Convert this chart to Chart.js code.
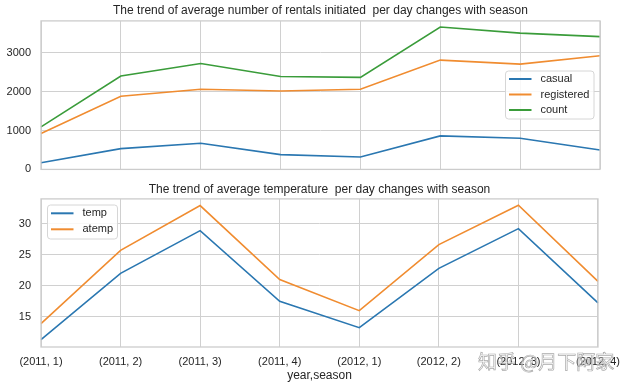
<!DOCTYPE html>
<html>
<head>
<meta charset="utf-8">
<script src="https://cdn.jsdelivr.net/npm/chart.js@4"></script>
<style>
  html, body { margin:0; padding:0; background:#fff; }
  #wrap { position:relative; width:628px; height:388px; overflow:hidden; }
  #top { position:absolute; left:0; top:0; }
  #bottom { position:absolute; left:0; top:180px; }
  #mark { position:absolute; left:478px; top:347px; font-family:"Noto Sans CJK SC"; font-size:19px;
          color:rgba(255,255,255,0.55); -webkit-text-stroke:0.7px rgba(140,140,140,0.75); white-space:nowrap; }
</style>
</head>
<body>
<div id="wrap">
  <canvas id="top" width="628" height="186"></canvas>
  <canvas id="bottom" width="628" height="208"></canvas>
  <div id="mark">知乎 @月下阿家</div>
</div>
<script>
// valeurs (moyennes par saison)
const categories = ['(2011, 1)','(2011, 2)','(2011, 3)','(2011, 4)','(2012, 1)','(2012, 2)','(2012, 3)','(2012, 4)'];
const casual     = [173, 536, 674, 381, 319, 863, 803, 500];
const registered = [925, 1883, 2065, 2021, 2065, 2816, 2712, 2927];
const count      = [1095, 2405, 2730, 2395, 2370, 3670, 3510, 3420];
const temp  = [11.34, 22.03, 28.92, 17.52, 13.27, 22.84, 29.24, 17.26];
const atemp = [13.92, 25.74, 32.95, 21.02, 16.02, 26.66, 33.0, 20.74];
const topTicks = [0, 1000, 2000, 3000];
const bottomTicks = [15, 20, 25, 30];

const BLUE = '#2a77b1', ORANGE = '#f08c30', GREEN = '#3a9c3a';
const GRID = '#d0d0d0', TXT = '#262626';
const FONT = 'Liberation Sans, Arial, sans-serif';

// cadre autour de la zone de tracé
const frame = {
  id:'frame',
  afterDraw(chart){
    const a = chart.chartArea, c = chart.ctx;
    c.save(); c.strokeStyle = '#cccccc'; c.lineWidth = 1.3;
    c.strokeRect(a.left, a.top, a.right - a.left, a.bottom - a.top);
    c.restore();
  }
};

// légende façon matplotlib
const boxLegend = {
  id:'boxLegend',
  afterDraw(chart, args, o){
    const c = chart.ctx;
    c.save();
    c.fillStyle = 'rgba(255,255,255,0.85)';
    c.strokeStyle = '#d6d6d6'; c.lineWidth = 1;
    c.beginPath(); c.roundRect(o.x, o.y, o.w, o.h, 3); c.fill(); c.stroke();
    c.font = '11px ' + FONT; c.textBaseline = 'middle'; c.fillStyle = TXT;
    chart.data.datasets.forEach((d, i) => {
      const y = o.y + o.first + i * o.step;
      c.strokeStyle = d.borderColor; c.lineWidth = 2;
      c.beginPath(); c.moveTo(o.x + 3.5, y); c.lineTo(o.x + 26, y); c.stroke();
      c.fillText(d.label, o.x + 35, y);
    });
    c.restore();
  }
};

function line(label, data, color){
  return { label, data, borderColor:color, backgroundColor:color, borderWidth:1.6, pointRadius:0, tension:0 };
}

function fixTicks(list){
  return s => { s.ticks = list.map(v => ({value:v})); };
}

Chart.defaults.font.family = FONT;
Chart.defaults.color = TXT;
Chart.defaults.animation = false;

new Chart(document.getElementById('top'), {
  type:'line',
  data:{ labels:categories, datasets:[line('casual', casual, BLUE), line('registered', registered, ORANGE), line('count', count, GREEN)] },
  options:{
    responsive:false,
    layout:{ padding:{ left:0, right:28, top:0, bottom:0 } },
    plugins:{
      legend:{ display:false },
      tooltip:{ enabled:false },
      title:{ display:true, fullSize:false, text:'The trend of average number of rentals initiated  per day changes with season',
              color:TXT, font:{ size:12, weight:'normal' }, padding:{ top:3.5, bottom:3 } },
      boxLegend:{ x:505.5, y:71, w:88.5, h:48, first:8, step:15.5 }
    },
    scales:{
      x:{ ticks:{ display:false }, grid:{ color:GRID, drawTicks:false }, border:{ display:false },
          afterFit:s => { s.height = 0; } },
      y:{ min:0, max:3826, afterBuildTicks:fixTicks(topTicks),
          ticks:{ padding:10, font:{ size:11 }, color:TXT, callback:v => String(v) },
          grid:{ color:GRID, drawTicks:false }, border:{ display:false },
          afterFit:s => { s.width = 41; } }
    }
  },
  plugins:[frame, boxLegend]
});

new Chart(document.getElementById('bottom'), {
  type:'line',
  data:{ labels:categories, datasets:[line('temp', temp, BLUE), line('atemp', atemp, ORANGE)] },
  options:{
    responsive:false,
    layout:{ padding:{ left:0, right:28, top:0, bottom:0 } },
    plugins:{
      legend:{ display:false },
      tooltip:{ enabled:false },
      title:{ display:true, fullSize:false, text:'The trend of average temperature  per day changes with season',
              color:TXT, font:{ size:12, weight:'normal' }, padding:{ top:2.5, bottom:2 } },
      boxLegend:{ x:47.5, y:25, w:70, h:34, first:8.3, step:16 }
    },
    scales:{
      x:{ ticks:{ padding:8, font:{ size:11 }, color:TXT, maxRotation:0, autoSkip:false },
          grid:{ color:GRID, drawTicks:false }, border:{ display:false },
          title:{ display:true, text:'year,season', color:TXT, font:{ size:12 }, padding:{ top:0, bottom:5 } },
          afterFit:s => { s.height = 41; } },
      y:{ min:10.16, max:34.03, afterBuildTicks:fixTicks(bottomTicks),
          ticks:{ padding:10, font:{ size:11 }, color:TXT, callback:v => String(v) },
          grid:{ color:GRID, drawTicks:false }, border:{ display:false },
          afterFit:s => { s.width = 41; } }
    }
  },
  plugins:[frame, boxLegend]
});
</script>
</body>
</html>
